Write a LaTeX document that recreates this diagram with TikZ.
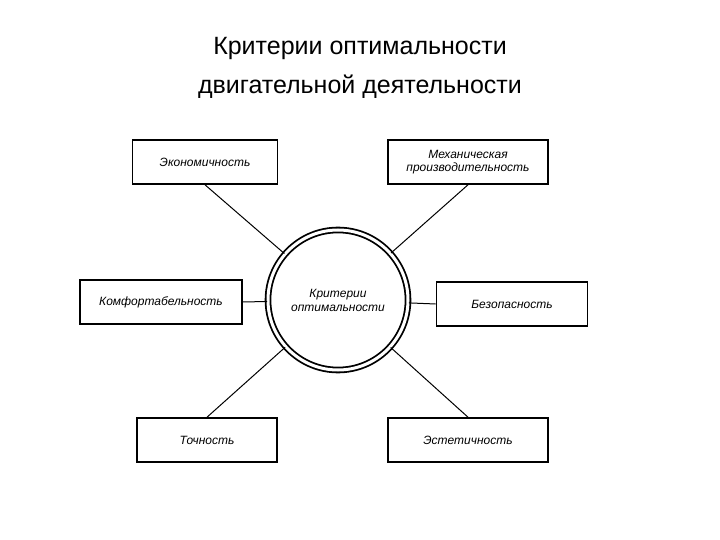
\documentclass[tikz,border=0pt]{standalone}
\usepackage{fontspec}
\setmainfont{Liberation Sans}
\begin{document}
\begin{tikzpicture}[x=1pt,y=-1pt,
  box/.style={draw,line width=1.6pt,minimum height=44pt,font=\itshape\fontsize{12}{13}\selectfont,align=center,inner sep=2pt},
  conn/.style={line width=1pt}]
\useasboundingbox (0,0) rectangle (720,540);
\node[font=\fontsize{25}{39}\selectfont,align=center] (title) at (360,68) {Критерии оптимальности\\двигательной деятельности};
\node[circle,draw,line width=1.8pt,minimum size=140pt,double,double distance=3pt,font=\itshape\fontsize{12}{14}\selectfont,align=center] (c) at (338,300) {Критерии\\оптимальности};
\node[box,minimum width=145pt] (eco) at (205,162) {Экономичность};
\node[box,minimum width=160pt] (mech) at (468,162) {Механическая\\производительность};
\node[box,minimum width=162pt] (comf) at (161,302) {Комфортабельность};
\node[box,minimum width=151pt] (safe) at (512,304) {Безопасность};
\node[box,minimum width=140pt] (prec) at (207,440) {Точность};
\node[box,minimum width=160pt] (aest) at (468,440) {Эстетичность};
\draw[conn] (eco.south) -- (c);
\draw[conn] (mech.south) -- (c);
\draw[conn] (comf.east) -- (c);
\draw[conn] (safe.west) -- (c);
\draw[conn] (prec.north) -- (c);
\draw[conn] (aest.north) -- (c);
\end{tikzpicture}
\end{document}
